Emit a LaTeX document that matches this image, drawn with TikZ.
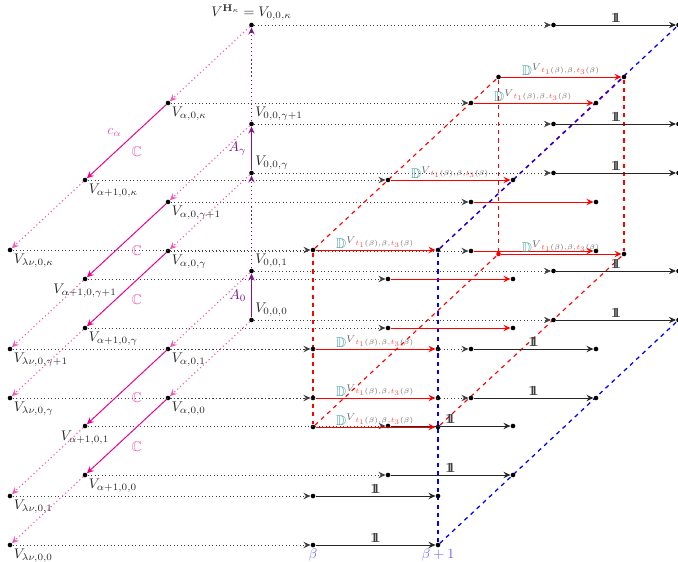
\documentclass[tikz,border=0pt]{standalone}
\usepackage{amsmath,amssymb}
\usetikzlibrary{arrows.meta,backgrounds}
\definecolor{mag}{RGB}{234,0,140}
\definecolor{magl}{RGB}{242,90,180}
\definecolor{pur}{RGB}{128,20,140}
\newcommand{\one}{\mathbf{1}\mkern-7.5mu\mathbf{1}}
\newcommand{\Dlab}{\textcolor{teal!80}{\mathbb{D}}^{\textcolor{black!60}{V}_{\textcolor{red!70}{t_1}\textcolor{black!60}{(\beta),\beta,}\textcolor{red!70}{t_3}\textcolor{black!60}{(\beta)}}}}
\begin{document}
\begin{tikzpicture}[x=0.7143pt,y=-0.7143pt,
  dot/.style={circle,fill=black,inner sep=0pt,minimum size=3.3pt},
  rdot/.style={circle,fill=red,inner sep=0pt,minimum size=3.3pt},
  tipst/.style={-{Stealth[length=5pt,width=4.6pt,inset=1.8pt]}},
  lab/.style={inner sep=1.2pt,text=black!85},
  hline/.style={dotted,black!75,line width=0.5pt,tipst},
  barr/.style={black!85,line width=0.65pt,tipst},
  rarr/.style={red,line width=0.7pt,tipst},
  mdot/.style={magl,dotted,line width=0.8pt,tipst},
  marr/.style={mag,line width=0.7pt,tipst},
  pdot/.style={pur,dotted,line width=0.9pt,tipst},
  parr/.style={pur,line width=0.8pt,tipst},
  reddash/.style={red,dashed,line width=0.8pt},
  bluedash/.style={blue,dashed,line width=0.9pt},
  onelab/.style={text=black!75,inner sep=1.5pt},
  dl/.style={inner sep=0.5pt},
  clab/.style={text=magl}
]
\useasboundingbox (0,0) rectangle (678,562);

% V nodes, alpha = 0
\node[dot,label={[lab]above:$V^{\mathbf{H}_\kappa}=V_{0,0,\kappa}$}] (oK) at (251.5,25) {};
\node[dot,label={[lab]above right:$V_{0,0,\gamma+1}$}] (oP) at (251.5,124) {};
\node[dot,label={[lab]above right:$V_{0,0,\gamma}$}] (oG) at (251.5,173) {};
\node[dot,label={[lab]above right:$V_{0,0,1}$}] (oO) at (251.5,271) {};
\node[dot,label={[lab]above right:$V_{0,0,0}$}] (oZ) at (251.5,320) {};
% alpha
\node[dot,label={[lab]below right:$V_{\alpha,0,\kappa}$}] (aK) at (168,103) {};
\node[dot,label={[lab]below right:$V_{\alpha,0,\gamma+1}$}] (aP) at (168,202) {};
\node[dot,label={[lab]below right:$V_{\alpha,0,\gamma}$}] (aG) at (168,251) {};
\node[dot,label={[lab]below right:$V_{\alpha,0,1}$}] (aO) at (168,349) {};
\node[dot,label={[lab]below right:$V_{\alpha,0,0}$}] (aZ) at (168,398) {};
% alpha+1
\node[dot,label={[lab]below right:$V_{\alpha+1,0,\kappa}$}] (bK) at (85,180) {};
\node[dot,label={[lab]below:$V_{\alpha+1,0,\gamma+1}$}] (bP) at (85,279) {};
\node[dot,label={[lab]below right:$V_{\alpha+1,0,\gamma}$}] (bG) at (85,328) {};
\node[dot,label={[lab]below:$V_{\alpha+1,0,1}$}] (bO) at (85,426) {};
\node[dot,label={[lab]below right:$V_{\alpha+1,0,0}$}] (bZ) at (85,475) {};
% lambda nu
\node[dot,label={[lab]below right:$V_{\lambda\nu,0,\kappa}$}] (lK) at (10,250) {};
\node[dot,label={[lab]below right:$V_{\lambda\nu,0,\gamma+1}$}] (lP) at (10,349) {};
\node[dot,label={[lab]below right:$V_{\lambda\nu,0,\gamma}$}] (lG) at (10,398) {};
\node[dot,label={[lab]below right:$V_{\lambda\nu,0,1}$}] (lO) at (10,496) {};
\node[dot,label={[lab]below right:$V_{\lambda\nu,0,0}$}] (lZ) at (10,545) {};

% beta and beta+1 points
\foreach \n/\x/\y in {o/250.5/25, a/168/103, b/85/180, l/10/250}{
  \foreach \z/\dz in {K/0,P/99,G/148,O/246,Z/295}{
    \node[dot] (b\n\z) at (\x+303,\y+\dz) {};
    \node[dot] (c\n\z) at (\x+428,\y+\dz) {};
  }
}
% extra corners of the red block
\node[dot] (P2) at (313,427) {};
\node[dot] (Q2) at (438,427) {};
\node[dot] (P3) at (498.5,77) {};
\node[dot] (Q3) at (624,77) {};
\node[rdot] (P4) at (498.5,254) {};
\node[dot] (Q4) at (624,254) {};

\begin{scope}[on background layer]
  \draw[reddash] (blK) -- (P2);
  \draw[reddash] (blK) -- (P3);
  \draw[reddash] (P2) -- (P4);
  \draw[reddash] (P3) -- (P4);
  \draw[reddash] (Q3) -- (Q4);
  \draw[reddash] (Q2) -- (Q4);
  \draw[reddash] (clK) -- (Q3);
  \draw[reddash] (clK) -- (Q2);
  \draw[bluedash] (clK) -- (clZ);
  \draw[bluedash] (clZ) -- (coZ);
  \draw[bluedash] (clK) -- (coK);
\end{scope}

% horizontal dotted lines
\foreach \s in {oK,oP,oG,oO,oZ,aK,aP,aG,aO,aZ,bK,bP,bG,bO,bZ,lK,lP,lG,lO,lZ}
  \draw[hline] (\s) -- (b\s);

% arrows beta -> beta+1
\foreach \s in {oK,oP,oG,oO,oZ,aO,aZ,bO,bZ,lO,lZ}
  \draw[barr] (b\s) -- node[above,onelab]{$\one$} (c\s);
\foreach \s in {aK,bK,lK,lP,lG}
  \draw[rarr] (b\s) -- node[above,dl]{$\Dlab$} (c\s);
\foreach \s in {aP,bP,aG,bG}
  \draw[rarr] (b\s) -- (c\s);
\draw[rarr] (P3) -- node[above,dl]{$\Dlab$} (Q3);
\draw[rarr] (P4) -- node[above,dl]{$\Dlab$} (Q4);
\draw[rarr] (P2) -- node[above,dl]{$\Dlab$} (Q2);

% magenta
\foreach \s/\t in {oK/aK, bK/lK, oP/aP, bP/lP, oG/aG, bG/lG, oO/aO, bO/lO, oZ/aZ, bZ/lZ}
  \draw[mdot] (\s) -- (\t);
\draw[marr] (aK) -- node[above left,clab]{$c_\alpha$} node[below right,clab]{$\mathbb{C}$} (bK);
\foreach \s/\t in {aP/bP, aG/bG, aO/bO, aZ/bZ}
  \draw[marr] (\s) -- node[below right,clab]{$\mathbb{C}$} (\t);

% purple
\draw[pdot] (oP) -- (oK);
\draw[parr] (oG) -- node[left,text=pur]{$A_\gamma$} (oP);
\draw[pdot] (oO) -- (oG);
\draw[parr] (oZ) -- node[left,text=pur]{$A_0$} (oO);

% beta labels
\node[below,inner sep=1pt,text=blue!60] (betaL) at (blZ.south) {$\beta$};
\node[below,inner sep=1pt,text=blue!60] (beta1L) at (clZ.south) {$\beta+1$};
\end{tikzpicture}
\end{document}
